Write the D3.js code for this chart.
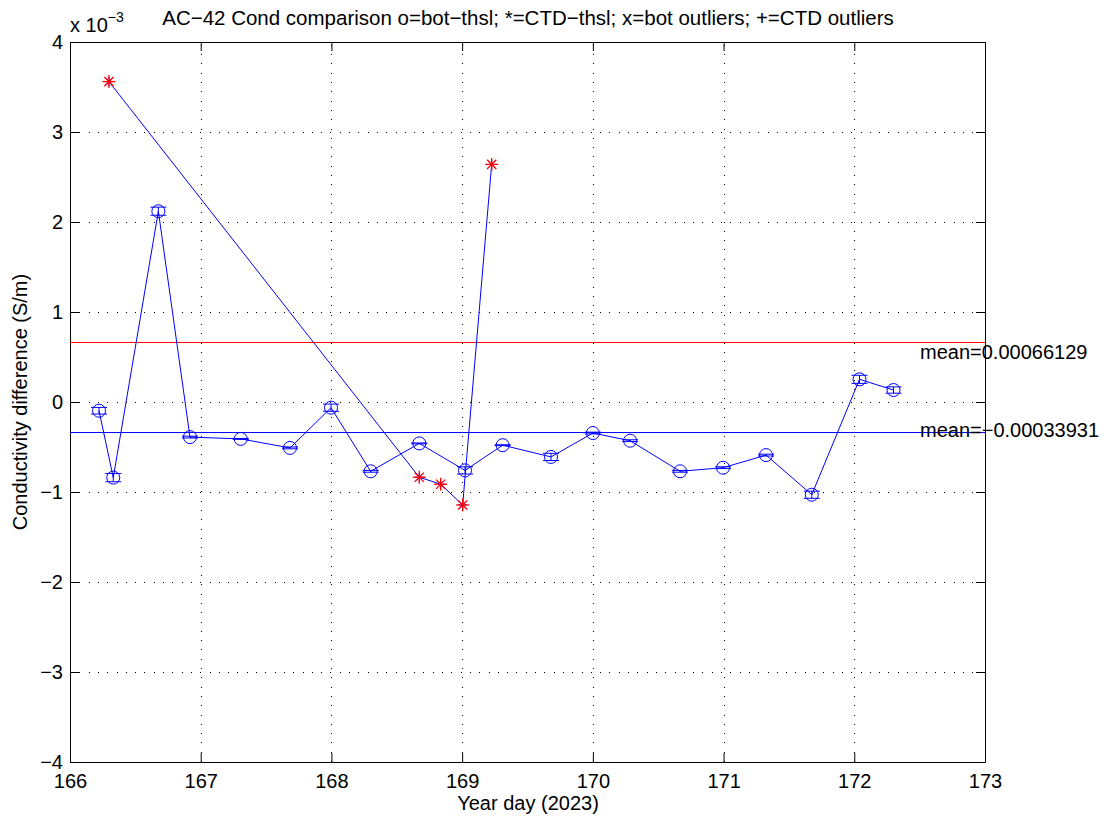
<!DOCTYPE html>
<html>
<head>
<meta charset="utf-8">
<script src="https://cdn.jsdelivr.net/npm/d3@7"></script>
<style>
  html, body { margin: 0; padding: 0; background: #fff; }
  svg { display: block; font-family: "Liberation Sans", Arial, Helvetica, sans-serif; }
</style>
</head>
<body>
<svg id="chart" width="1111" height="823"></svg>
<script>
// Bottle minus thermosalinograph conductivity differences (units of 1e-3 S/m)
const botDay = [166.222, 166.331, 166.676, 166.918, 167.306, 167.683, 167.997, 168.300, 168.672, 169.022,
                169.310, 169.680, 170.000, 170.285, 170.667, 170.996, 171.325, 171.675, 172.040, 172.300];
const botDiff = [-0.097, -0.84, 2.12, -0.39, -0.41, -0.51, -0.063, -0.77, -0.46, -0.76,
                 -0.48, -0.61, -0.345, -0.43, -0.77, -0.73, -0.59, -1.03, 0.252, 0.133];
const botErr = [0.037, 0.046, 0.045, 0.01, 0.005, 0.01, 0.04, 0.01, 0.005, 0.04,
                0.005, 0.04, 0.01, 0.01, 0.01, 0.01, 0.01, 0.04, 0.045, 0.035];

// CTD minus thermosalinograph differences (all flagged as outliers)
const ctdDay = [166.298, 168.672, 168.836, 169.004, 169.226];
const ctdDiff = [3.56, -0.836, -0.914, -1.144, 2.64];

// Series means as reported (S/m)
const ctdMean = 0.00066129;
const botMean = -0.00033931;

const xTicks = [166, 167, 168, 169, 170, 171, 172, 173];
const yTicks = [-4, -3, -2, -1, 0, 1, 2, 3, 4];

const titleText = "AC\u221242 Cond comparison o=bot\u2212thsl; *=CTD\u2212thsl; x=bot outliers; +=CTD outliers";
const xLabel = "Year day (2023)";
const yLabel = "Conductivity difference (S/m)";

const svg = d3.select("#chart");
const L = 70, R = 985, T = 42, B = 762;

const x = d3.scaleLinear().domain([166, 173]).range([L, R]);
const y = d3.scaleLinear().domain([-4, 4]).range([B, T]);

const fmt = d3.format("d");

// grid
const grid = svg.append("g").attr("stroke", "#000").attr("stroke-width", 1)
  .attr("stroke-dasharray", "1,8.3").attr("shape-rendering", "crispEdges");
grid.selectAll("line.v").data(xTicks.slice(1, -1)).join("line")
  .attr("x1", d => Math.round(x(d)) + 0.5).attr("x2", d => Math.round(x(d)) + 0.5)
  .attr("y1", B).attr("y2", T);
grid.selectAll("line.h").data(yTicks.slice(1, -1)).join("line")
  .attr("x1", L).attr("x2", R)
  .attr("y1", d => Math.round(y(d)) + 0.5).attr("y2", d => Math.round(y(d)) + 0.5);

// axes (ticks pointing inward on all sides)
function styleAxis(g) {
  g.selectAll("path.domain").attr("stroke", "#000");
  g.selectAll(".tick line").attr("stroke", "#000");
  g.selectAll(".tick text").attr("fill", "#000").style("font-size", "20px")
    .style("font-family", "'Liberation Sans', Arial, sans-serif");
}
svg.append("g").attr("transform", `translate(0,${B})`)
  .call(d3.axisBottom(x).tickValues(xTicks).tickFormat(fmt).tickSizeInner(-9).tickSizeOuter(0).tickPadding(12))
  .call(styleAxis);
svg.append("g").attr("transform", `translate(0,${T})`)
  .call(d3.axisTop(x).tickValues(xTicks).tickFormat("").tickSizeInner(-9).tickSizeOuter(0))
  .call(styleAxis);
svg.append("g").attr("transform", `translate(${L},0)`)
  .call(d3.axisLeft(y).tickValues(yTicks).tickFormat(fmt).tickSizeInner(-9).tickSizeOuter(0).tickPadding(7))
  .call(styleAxis);
svg.append("g").attr("transform", `translate(${R},0)`)
  .call(d3.axisRight(y).tickValues(yTicks).tickFormat("").tickSizeInner(-9).tickSizeOuter(0))
  .call(styleAxis);

const blue = "#0000ff", red = "#ff0000";
const plot = svg.append("g");

// mean lines
plot.append("line").attr("x1", L).attr("x2", R)
  .attr("y1", y(ctdMean * 1e3)).attr("y2", y(ctdMean * 1e3)).attr("stroke", red).attr("stroke-width", 1);
plot.append("line").attr("x1", L).attr("x2", R)
  .attr("y1", y(botMean * 1e3)).attr("y2", y(botMean * 1e3)).attr("stroke", blue).attr("stroke-width", 1);

const line = d3.line().x(d => x(d[0])).y(d => y(d[1]));

// bottle series
const bot = botDay.map((d, i) => [d, botDiff[i], botErr[i]]);
plot.append("path").datum(bot).attr("d", line).attr("fill", "none").attr("stroke", blue).attr("stroke-width", 1);

const eb = plot.append("g").attr("stroke", blue).attr("stroke-width", 1).attr("fill", "none");
const capW = 8;
bot.forEach(p => {
  const cx = x(p[0]);
  const y1 = y(p[1] + p[2]), y2 = y(p[1] - p[2]);
  eb.append("line").attr("x1", cx).attr("x2", cx).attr("y1", y1).attr("y2", y2);
  eb.append("line").attr("x1", cx - capW).attr("x2", cx + capW).attr("y1", y1).attr("y2", y1);
  eb.append("line").attr("x1", cx - capW).attr("x2", cx + capW).attr("y1", y2).attr("y2", y2);
  eb.append("circle").attr("cx", cx).attr("cy", y(p[1])).attr("r", 6.5);
});

// CTD series
const ctd = ctdDay.map((d, i) => [d, ctdDiff[i]]);
plot.append("path").datum(ctd).attr("d", line).attr("fill", "none").attr("stroke", blue).attr("stroke-width", 1);

function star(g, cx, cy, s, color, w) {
  const d = s * 0.7071;
  const segs = [[-s, 0, s, 0], [0, -s, 0, s], [-d, -d, d, d], [-d, d, d, -d]];
  segs.forEach(q => g.append("line")
    .attr("x1", cx + q[0]).attr("y1", cy + q[1]).attr("x2", cx + q[2]).attr("y2", cy + q[3])
    .attr("stroke", color).attr("stroke-width", w));
}
ctd.forEach(p => star(plot, x(p[0]), y(p[1]), 4.5, blue, 1));
ctd.forEach(p => star(plot, x(p[0]), y(p[1]), 6.5, red, 1.3));

// mean labels
const txt = svg.append("g").attr("fill", "#000").style("font-size", "20px");
txt.append("text").attr("x", 920).attr("y", y(ctdMean * 1e3) + 17).text("mean=" + ctdMean);
txt.append("text").attr("x", 920).attr("y", y(botMean * 1e3) + 4).text("mean=" + String(botMean).replace("-", "\u2212"));

// exponent label
const ex = svg.append("text").attr("x", 70).attr("y", 32).attr("fill", "#000").style("font-size", "20px");
ex.append("tspan").text("x 10");
ex.append("tspan").attr("dy", -10).style("font-size", "14px").text("\u22123");

// title and axis labels
svg.append("text").attr("x", 528).attr("y", 25).attr("text-anchor", "middle").attr("fill", "#000")
  .style("font-size", "20.5px").text(titleText);
svg.append("text").attr("x", 528).attr("y", 810).attr("text-anchor", "middle").attr("fill", "#000")
  .style("font-size", "20px").text(xLabel);
svg.append("text").attr("transform", `translate(27,${(T + B) / 2}) rotate(-90)`).attr("text-anchor", "middle")
  .attr("fill", "#000").style("font-size", "20px").text(yLabel);
</script>
</body>
</html>
